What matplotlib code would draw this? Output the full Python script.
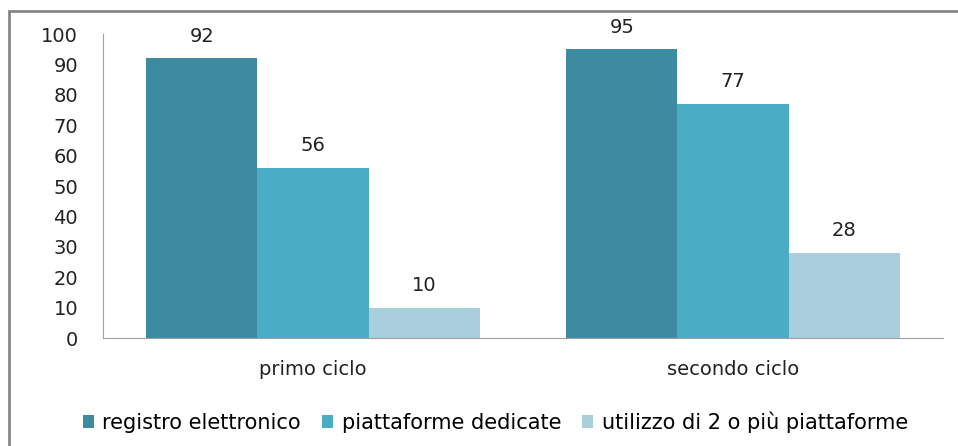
import matplotlib.pyplot as plt
import numpy as np
from matplotlib.patches import Rectangle

# dati
categorie = ['primo ciclo', 'secondo ciclo']
serie = ['registro elettronico', 'piattaforme dedicate', 'utilizzo di 2 o più piattaforme']
registro = [92, 95]
piattaforme = [56, 77]
due_o_piu = [10, 28]
colori = ['#3c8ba0', '#4bacc6', '#a9cfdd']

plt.rcParams['font.family'] = ['DejaVu Sans']

fig = plt.figure(figsize=(9.58, 4.46), dpi=100)
ax = fig.add_axes([103/958, 1-338/446, 840/958, 304/446])

# cornice esterna (tagliata a destra e in basso)
fig.patches.append(Rectangle((9/958, -0.05), 1.2, 1-11/446+0.05, transform=fig.transFigure,
                             fill=False, edgecolor='#868686', linewidth=2))

x = np.arange(len(categorie))
w = 0.265
valori = [registro, piattaforme, due_o_piu]
for i, (nome, v) in enumerate(zip(serie, valori)):
    b = ax.bar(x + (i-1)*w, v, w, color=colori[i], label=nome)
    ax.bar_label(b, padding=9, fontsize=14, color='#222222')

ax.set_xlim(-0.5, 1.5)
ax.set_ylim(0, 100)
ax.set_yticks(range(0, 101, 10))
ax.set_xticks(x)
ax.set_xticklabels(categorie)
ax.tick_params(length=0, labelsize=14, colors='#222222')
ax.tick_params(axis='y', pad=18)
ax.tick_params(axis='x', pad=16)
for s in ['top', 'right']:
    ax.spines[s].set_visible(False)
for s in ['left', 'bottom']:
    ax.spines[s].set_color('#a0a0a0')

leg = fig.legend(loc='center', bbox_to_anchor=(0.517, 1-422/446), ncol=3, frameon=False,
                 fontsize=15, handlelength=0.55, handleheight=0.55, handletextpad=0.4,
                 columnspacing=1.0)

fig.savefig('out.png', dpi=100)
